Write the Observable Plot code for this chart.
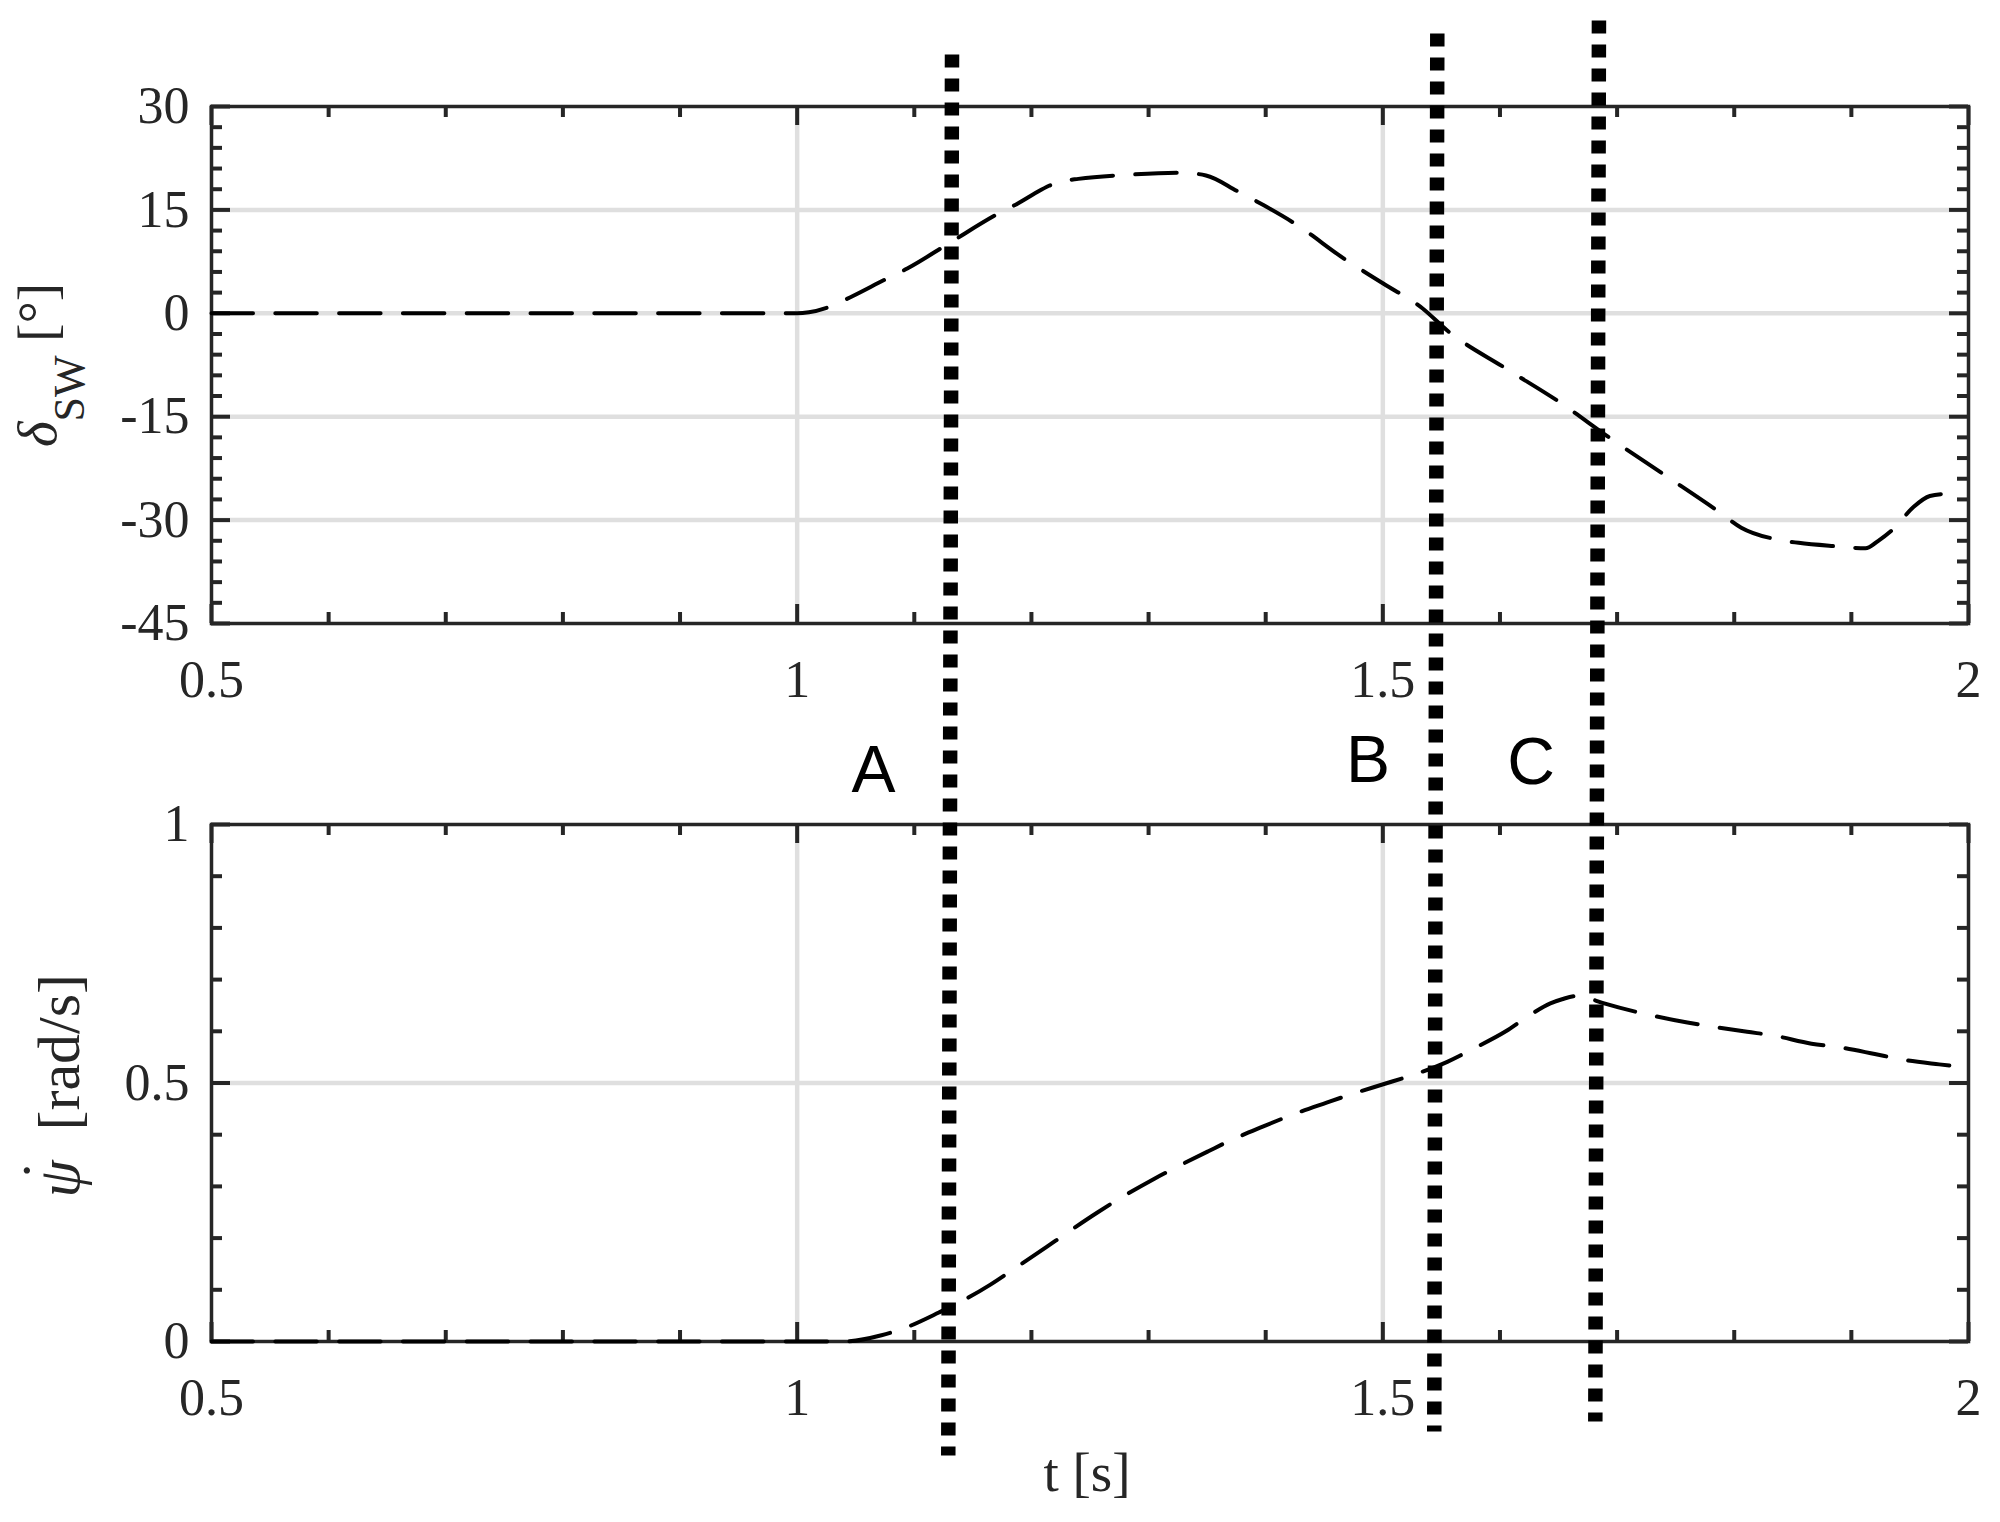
<!DOCTYPE html>
<html>
<head>
<meta charset="utf-8">
<script src="https://cdn.jsdelivr.net/npm/d3@7"></script>
<script src="https://cdn.jsdelivr.net/npm/@observablehq/plot@0.6"></script>
<style>
  html, body { margin: 0; padding: 0; background: #fff; overflow: hidden; }
  #chart { width: 2000px; height: 1522px; }
  #chart svg { display: block; }
</style>
</head>
<body>
<div id="chart"></div>
<script>
// ---- data: steering-wheel angle delta_SW [deg] ----
const tDelta = [0.5, 0.7, 0.9, 1.0, 1.01, 1.026, 1.045, 1.075, 1.094, 1.131, 1.17, 1.188, 1.202, 1.215, 1.228, 1.24, 1.283, 1.327, 1.349, 1.376, 1.398, 1.425, 1.468, 1.501, 1.534, 1.555, 1.605, 1.651, 1.694, 1.741, 1.787, 1.806, 1.836, 1.855, 1.887, 1.912, 1.923, 1.937, 1.953, 1.967, 1.98];
const delta  = [0, 0, 0, 0, 0.15, 0.85, 2.3, 4.9, 6.5, 10.3, 14.3, 15.9, 17.3, 18.5, 19.2, 19.5, 20.1, 20.4, 20.0, 17.7, 15.7, 13.0, 7.8, 4.25, 0.7, -2.5, -8.0, -12.9, -18.1, -23.5, -28.8, -31.1, -32.8, -33.3, -33.8, -34.1, -33.0, -31.1, -28.1, -26.5, -26.2];

// ---- data: yaw rate psi_dot [rad/s] ----
const tRate = [0.5, 0.7, 0.9, 1.0, 1.04, 1.072, 1.094, 1.121, 1.143, 1.165, 1.183, 1.213, 1.229, 1.256, 1.275, 1.305, 1.321, 1.351, 1.37, 1.398, 1.422, 1.452, 1.474, 1.501, 1.525, 1.555, 1.577, 1.605, 1.624, 1.643, 1.653, 1.665, 1.675, 1.689, 1.727, 1.76, 1.779, 1.811, 1.833, 1.866, 1.89, 1.92, 1.942, 1.975, 1.998];
const rate  = [0, 0, 0, 0, 0, 0.012, 0.028, 0.056, 0.081, 0.11, 0.137, 0.183, 0.208, 0.249, 0.276, 0.315, 0.334, 0.368, 0.389, 0.416, 0.438, 0.462, 0.479, 0.498, 0.515, 0.541, 0.566, 0.6, 0.629, 0.654, 0.662, 0.668, 0.664, 0.654, 0.632, 0.617, 0.61, 0.599, 0.592, 0.576, 0.569, 0.556, 0.546, 0.536, 0.53];

// ---- ticks ----
const xMajor = [0.5, 1, 1.5, 2];
const xMinor = [0.6, 0.7, 0.8, 0.9, 1.1, 1.2, 1.3, 1.4, 1.6, 1.7, 1.8, 1.9];
const yTopMajor = [-45, -30, -15, 0, 15, 30];
const yTopMinor = [-42, -39, -36, -33, -27, -24, -21, -18, -12, -9, -6, -3, 3, 6, 9, 12, 18, 21, 24, 27];
const yTopGrid = [-30, -15, 0, 15];
const yBotMajor = [0, 0.5, 1];
const yBotMinor = [0.1, 0.2, 0.3, 0.4, 0.6, 0.7, 0.8, 0.9];
const yBotGrid = [0.5];
const xGrid = [1, 1.5];

// ---- event markers A, B, C (dotted vertical lines) ----
const markerNames = ["A", "B", "C"];
const markerTTop = [1.1322, 1.5465, 1.6845];
const markerTBottom = [1.1290, 1.5439, 1.6814];
// line ends expressed in each panel's own units
const markerTopPanelY1 = [37.544, 40.590, 42.476];
const markerTopPanelY2 = [-165.70, -162.22, -160.77];
const markerBotPanelY1 = [2.4894, 2.5300, 2.5551];
const markerBotPanelY2 = [-0.2205, -0.1741, -0.1547];
const markerLabelT = [1.0652, 1.4873, 1.6265];
const markerLabelY = [1.0625, 1.0818, 1.0780];

const TOP_LABEL = "δSW [°]";
const BOT_LABEL = "ψ̇ [rad/s]";
const X_LABEL = "t [s]";

const AXIS = "#262626", GRID = "#dfdfdf";
const SERIF = "'Liberation Serif', 'Times New Roman', serif";
const SANS = "'Liberation Sans', Arial, sans-serif";
const W = 2000, ML = 211, MR = 32;
const FRAME_W = W - ML - MR;

const dTop = tDelta.map((t, i) => ({t, v: delta[i]}));
const dBot = tRate.map((t, i) => ({t, v: rate[i]}));
const markersTop = markerNames.map((n, i) => ({n, x1: markerTTop[i], x2: markerTBottom[i], y1: markerTopPanelY1[i], y2: markerTopPanelY2[i]}));
const markersBot = markerNames.map((n, i) => ({n, x1: markerTTop[i], x2: markerTBottom[i], y1: markerBotPanelY1[i], y2: markerBotPanelY2[i]}));
const labelsBot = markerNames.map((n, i) => ({n, t: markerLabelT[i], y: markerLabelY[i]}));

function frameTicks(frameH, yMajor, yMinor) {
  const MAJ = 19, MIN = 11, sw = 4;
  return [
    Plot.tickX(xMajor, {x: d => d, stroke: AXIS, strokeWidth: sw, insetTop: frameH - MAJ}),
    Plot.tickX(xMinor, {x: d => d, stroke: AXIS, strokeWidth: sw, insetTop: frameH - MIN}),
    Plot.tickX(xMajor, {x: d => d, stroke: AXIS, strokeWidth: sw, insetBottom: frameH - MAJ}),
    Plot.tickX(xMinor, {x: d => d, stroke: AXIS, strokeWidth: sw, insetBottom: frameH - MIN}),
    Plot.tickY(yMajor, {y: d => d, stroke: AXIS, strokeWidth: sw, insetRight: FRAME_W - MAJ}),
    Plot.tickY(yMinor, {y: d => d, stroke: AXIS, strokeWidth: sw, insetRight: FRAME_W - MIN}),
    Plot.tickY(yMajor, {y: d => d, stroke: AXIS, strokeWidth: sw, insetLeft: FRAME_W - MAJ}),
    Plot.tickY(yMinor, {y: d => d, stroke: AXIS, strokeWidth: sw, insetLeft: FRAME_W - MIN})
  ];
}

function panel(o) {
  const frameH = o.height - o.marginTop - o.marginBottom;
  return Plot.plot({
    width: W,
    height: o.height,
    marginLeft: ML,
    marginRight: MR,
    marginTop: o.marginTop,
    marginBottom: o.marginBottom,
    x: {domain: [0.5, 2], axis: null},
    y: {domain: o.yDomain, axis: null},
    style: {fontFamily: SERIF, background: "white", color: AXIS},
    marks: [
      Plot.ruleX(xGrid, {x: d => d, stroke: GRID, strokeWidth: 4.5}),
      Plot.ruleY(o.yGrid, {y: d => d, stroke: GRID, strokeWidth: 4.5}),
      ...frameTicks(frameH, o.yMajor, o.yMinor),
      Plot.frame({stroke: AXIS, strokeWidth: 3.5}),
      Plot.line(o.data, {x: "t", y: "v", stroke: "black", strokeWidth: 4, strokeDasharray: "41.5,22.3", curve: "monotone-x"}),
      Plot.link(o.markers, {x1: "x1", y1: "y1", x2: "x2", y2: "y2", stroke: "black", strokeWidth: 14.5, strokeDasharray: "13,11", strokeLinecap: "butt"}),
      Plot.axisX(xMajor, {anchor: "bottom", tickSize: 0, tickPadding: 37, tickFormat: d => String(d), fontSize: 52, fill: AXIS, label: null}),
      Plot.axisY(o.yMajor, {anchor: "left", tickSize: 0, tickPadding: 22, tickFormat: d => String(d), fontSize: 52, fill: AXIS, label: null}),
      ...o.extra
    ]
  });
}

// top panel: page rows 0..715 (frame 106..623)
const topSvg = panel({
  height: 715, marginTop: 106, marginBottom: 92,
  yDomain: [-45, 30], yMajor: yTopMajor, yMinor: yTopMinor, yGrid: yTopGrid,
  data: dTop, markers: markersTop,
  extra: [
    Plot.text([TOP_LABEL], {frameAnchor: "left", rotate: -90, dx: -156, dy: 0, textAnchor: "middle", lineAnchor: "bottom", fontSize: 55, fill: AXIS})
  ]
});

// bottom panel: page rows 715..1522 (frame 824..1341)
const botSvg = panel({
  height: 807, marginTop: 109, marginBottom: 181,
  yDomain: [0, 1], yMajor: yBotMajor, yMinor: yBotMinor, yGrid: yBotGrid,
  data: dBot, markers: markersBot,
  extra: [
    Plot.text(labelsBot, {x: "t", y: "y", text: "n", fontFamily: SANS, fontSize: 66, fill: "black", textAnchor: "middle", lineAnchor: "bottom"}),
    Plot.text([BOT_LABEL], {frameAnchor: "left", rotate: -90, dx: -133, dy: 114.5, textAnchor: "start", lineAnchor: "bottom", fontSize: 60, fill: AXIS}),
    Plot.text([X_LABEL], {frameAnchor: "bottom", dx: -3, dy: 149, textAnchor: "middle", lineAnchor: "bottom", fontSize: 55, fill: AXIS})
  ]
});

// rich text (italic symbol, subscript, accent) for the y-axis labels
function richLabel(svg, content, parts) {
  d3.select(svg).selectAll("text").filter(function() { return this.textContent === content; }).each(function() {
    const t = d3.select(this);
    t.text(null);
    for (const p of parts) {
      const s = t.append("tspan").text(p.text);
      if (p.italic) s.attr("font-style", "italic");
      if (p.size) s.attr("font-size", p.size);
      if (p.x != null) s.attr("x", p.x);
      if (p.dy) s.attr("dy", p.dy);
    }
  });
}
richLabel(topSvg, TOP_LABEL, [
  {text: "δ", italic: true},
  {text: "SW", size: 44, dy: 28},
  {text: " [°]", dy: -28}
]);
richLabel(botSvg, BOT_LABEL, [
  {text: "ψ", italic: true, x: 0},
  {text: "˙", x: 17, dy: -16},
  {text: "[rad/s]", x: 67, dy: 16}
]);

document.getElementById("chart").append(topSvg, botSvg);
</script>
</body>
</html>
